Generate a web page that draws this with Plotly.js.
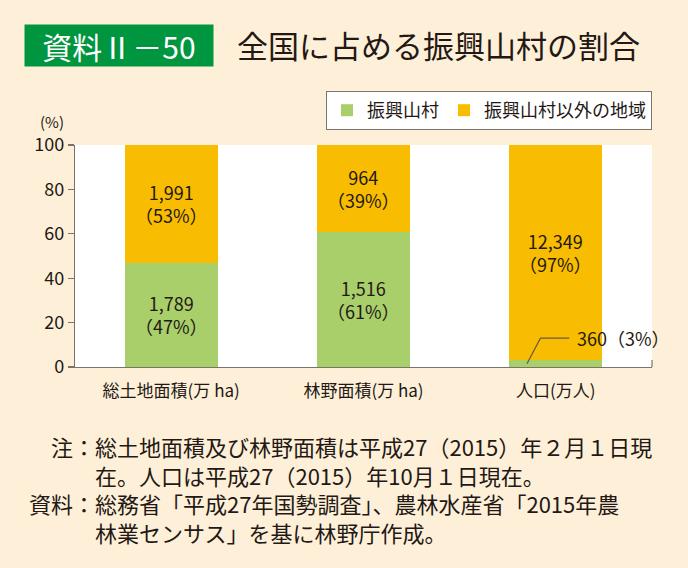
<!DOCTYPE html>
<html>
<head>
<meta charset="utf-8">
<script src="https://cdn.plot.ly/plotly-3.0.1.min.js"></script>
<style>
html,body{margin:0;padding:0;background:#FEF0D8;}
#chart{width:688px;height:568px;}
</style>
</head>
<body>
<div id="chart"></div>
<script>
// ---- data ----
const categories = ['総土地面積(万 ha)', '林野面積(万 ha)', '人口(万人)'];
const seriesNames = ['振興山村', '振興山村以外の地域'];
const sanson = [47, 61, 3];            // % share, 振興山村
const other = [53, 39, 97];            // % share, 以外
const sansonValues = ['1,789', '1,516', '360'];
const otherValues = ['1,991', '964', '12,349'];
const yTicks = [0, 20, 40, 60, 80, 100];
const titleBadge = '資料Ⅱ－50';
const titleText = '全国に占める振興山村の割合';
const noteLines = [
  '\u3000注：総土地面積及び林野面積は平成27（2015）年２月１日現',
  '\u3000\u3000\u3000在。人口は平成27（2015）年10月１日現在。',
  '資料：総務省「平成27年国勢調査」、農林水産省「2015年農',
  '\u3000\u3000\u3000林業センサス」を基に林野庁作成。'
];

// ---- layout helpers ----
const W = 688, H = 568;
const M = {l: 75, r: 36, t: 145, b: 201};
const PW = W - M.l - M.r, PH = H - M.t - M.b;
const px2x = p => (p - M.l) / PW;
const px2y = p => (H - M.b - p) / PH;

const FONT = '"Noto Sans CJK JP", "Noto Sans", sans-serif';
const TXT = '#231815';
const GREEN = '#A9CF6B';
const ORANGE = '#F8BD00';
const AXIS = '#7a726c';

const traces = [
  {type: 'bar', name: seriesNames[0], x: categories, y: sanson,
   marker: {color: GREEN}, hoverinfo: 'skip'},
  {type: 'bar', name: seriesNames[1], x: categories, y: other,
   marker: {color: ORANGE}, hoverinfo: 'skip'}
];

const annotations = [];
// in-bar labels
categories.forEach((c, i) => {
  annotations.push({x: c, y: sanson[i] + other[i] / 2, xref: 'x', yref: 'y',
    text: otherValues[i] + '<br>（' + other[i] + '%）', showarrow: false,
    font: {family: FONT, size: 18, color: TXT}, align: 'center'});
  if (sanson[i] >= 10) {
    annotations.push({x: c, y: sanson[i] / 2, xref: 'x', yref: 'y',
      text: sansonValues[i] + '<br>（' + sanson[i] + '%）', showarrow: false,
      font: {family: FONT, size: 18, color: TXT}, align: 'center'});
  }
});
const shapes = [];
// callout for small segment
categories.forEach((c, i) => {
  if (sanson[i] < 10) {
    const yl = sanson[i] + 10;
    shapes.push({type: 'path', xref: 'x', yref: 'y',
      path: `M${i - 0.15},${sanson[i] / 2} L${i - 0.08},${yl} L${i + 0.07},${yl}`,
      line: {color: '#6b5a3c', width: 1.2}});
    annotations.push({x: i + 0.1, y: yl, xref: 'x', yref: 'y', xanchor: 'left', yanchor: 'middle',
      text: sansonValues[i] + '（' + sanson[i] + '%）', showarrow: false,
      font: {family: FONT, size: 18, color: TXT}});
  }
});
// small end tick at right of x axis
shapes.push({type: 'line', xref: 'paper', yref: 'paper', x0: 1, x1: 1, y0: 0, y1: 7 / PH,
  line: {color: AXIS, width: 1.2}});

// (%) unit
annotations.push({xref: 'paper', yref: 'paper', x: px2x(52), y: px2y(121), text: '(%)',
  showarrow: false, font: {family: FONT, size: 15, color: TXT}, xanchor: 'center', yanchor: 'middle'});
// badge
annotations.push({xref: 'paper', yref: 'paper', x: px2x(119), y: px2y(45.5), text: titleBadge,
  showarrow: false, font: {family: FONT, size: 30, color: '#ffffff'}, bgcolor: '#00953F',
  width: 188, height: 41, borderpad: 0, xanchor: 'center', yanchor: 'middle', align: 'center'});
// notes
annotations.push({xref: 'paper', yref: 'paper', x: px2x(27), y: px2y(489),
  text: noteLines.join('<br>'), showarrow: false, xanchor: 'left', yanchor: 'middle', align: 'left',
  font: {family: FONT, size: 22, color: TXT}});

const layout = {
  width: W, height: H,
  margin: {l: M.l, r: M.r, t: M.t, b: M.b, pad: 0, autoexpand: false},
  paper_bgcolor: '#FEF0D8', plot_bgcolor: '#ffffff',
  font: {family: FONT, color: TXT},
  title: {text: titleText, font: {family: FONT, size: 31, color: TXT},
    xref: 'container', yref: 'container', x: 237 / W, xanchor: 'left',
    y: 1 - 47 / H, yanchor: 'middle'},
  barmode: 'stack', bargap: 0.516,
  showlegend: true,
  legend: {orientation: 'h', x: 1, xanchor: 'right', y: px2y(91), yanchor: 'top',
    bgcolor: '#ffffff', bordercolor: '#7d736b', borderwidth: 1,
    font: {family: FONT, size: 18, color: TXT}, traceorder: 'normal'},
  xaxis: {type: 'category', range: [-0.5, categories.length - 0.5], autorange: false,
    showline: true, linecolor: AXIS, linewidth: 1.2,
    ticks: '', showgrid: false, zeroline: false, fixedrange: true,
    tickfont: {family: FONT, size: 17, color: TXT}, ticklabelstandoff: 8},
  yaxis: {range: [0, 100], autorange: false, tickvals: yTicks, ticktext: yTicks.map(String),
    ticks: 'outside', ticklen: 6, tickcolor: AXIS, tickwidth: 1.2,
    showline: true, linecolor: AXIS, linewidth: 1.2, showgrid: false, zeroline: false,
    tickfont: {family: FONT, size: 18, color: TXT}, fixedrange: true},
  annotations: annotations,
  shapes: shapes
};

Plotly.newPlot('chart', traces, layout, {displayModeBar: false, staticPlot: true});
</script>
</body>
</html>
